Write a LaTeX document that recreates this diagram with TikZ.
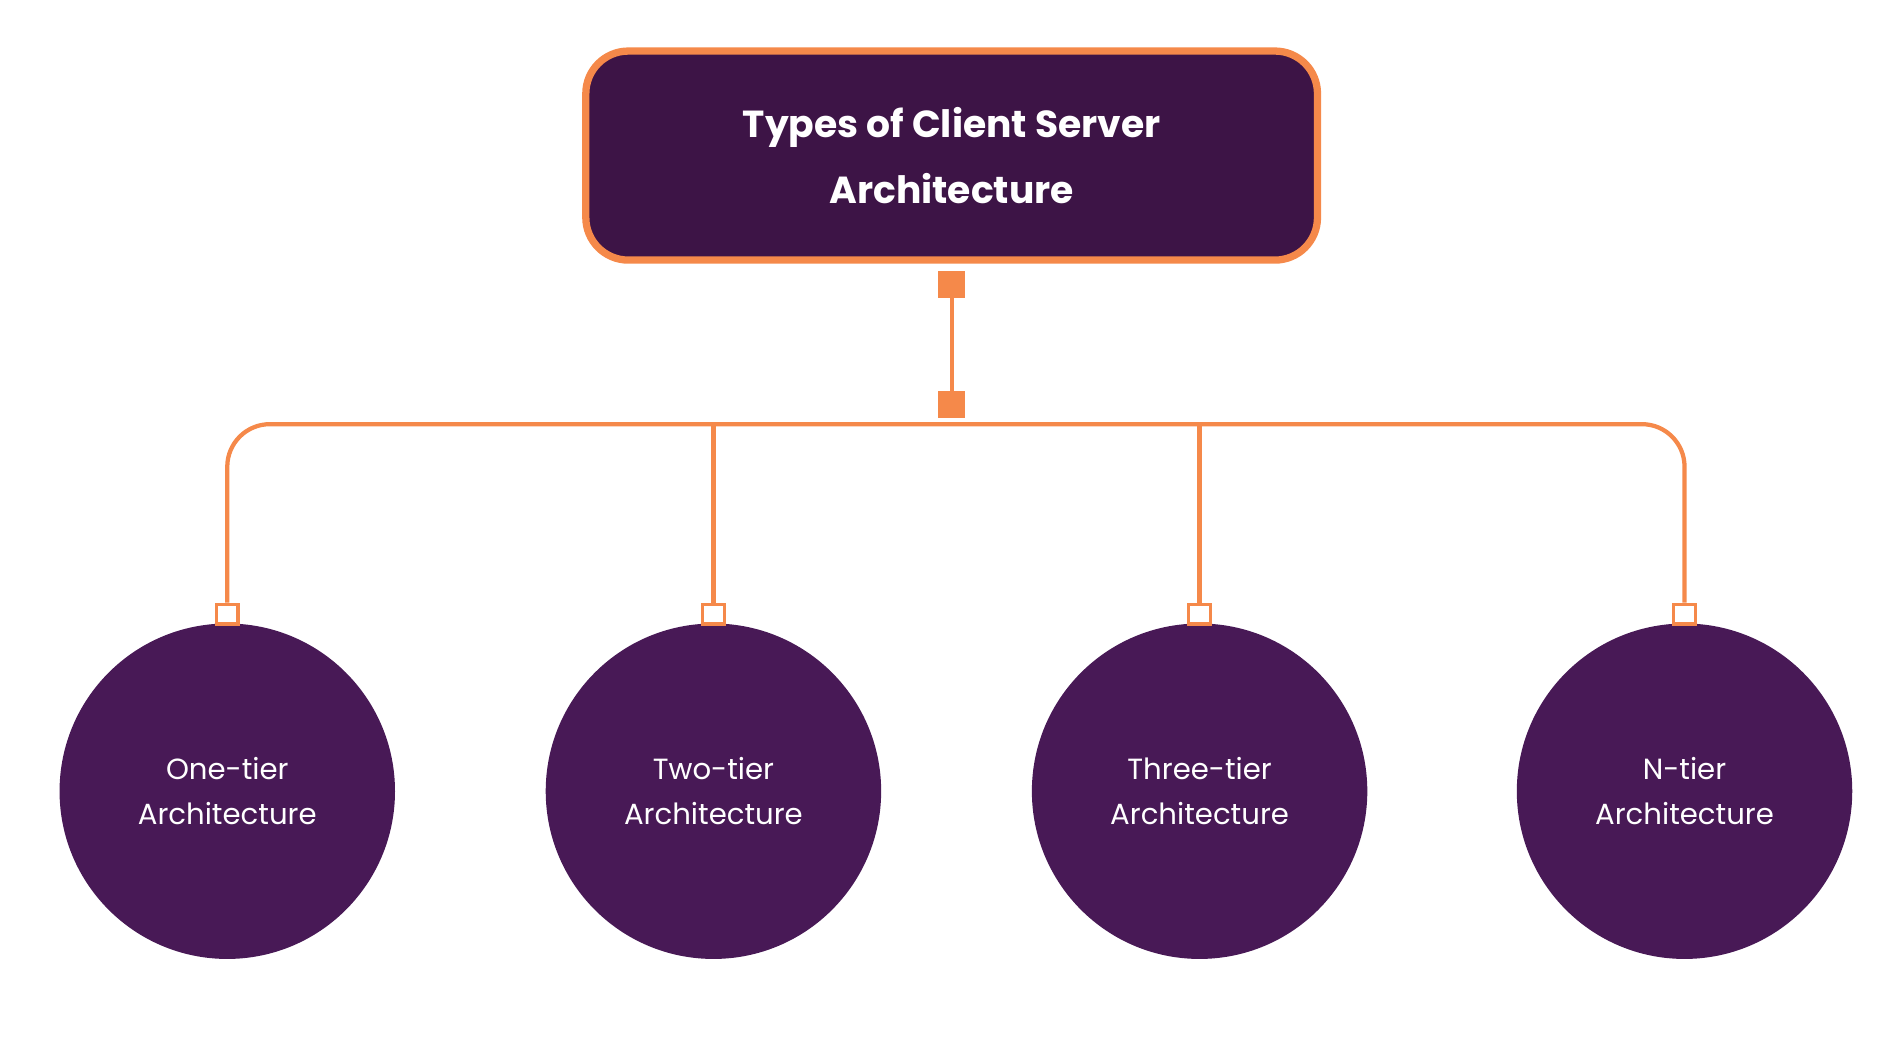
\documentclass[tikz,border=0pt]{standalone}
\usepackage{fontspec}
\setmainfont{Poppins}
\usetikzlibrary{positioning}
\definecolor{boxpurple}{RGB}{61,20,70}
\definecolor{tierpurple}{RGB}{72,25,86}
\definecolor{linkorange}{RGB}{245,137,74}
\tikzset{
  title box/.style={draw=linkorange,line width=6pt,fill=boxpurple,rounded corners=35pt,
    minimum width=602pt,minimum height=172pt,align=center,text=white,
    font=\fontsize{31}{54}\selectfont\bfseries},
  tier/.style={circle,fill=tierpurple,minimum size=276pt,align=center,text=white,
    font=\fontsize{24}{37}\selectfont},
  link/.style={draw=linkorange,line width=3.5pt},
  knob/.style={fill=linkorange,minimum size=22pt,inner sep=0pt},
  socket/.style={draw=linkorange,line width=3pt,fill=white,minimum width=18pt,minimum height=16pt,inner sep=0pt}
}
\begin{document}
\begin{tikzpicture}[x=1pt,y=1pt,yscale=-1]
\useasboundingbox (0,0) rectangle (1560,864);

% title
\node[title box] (title) at (783,128) {Types of Client Server\\Architecture};

% tiers
\node[tier] (one) at (187,651) {One-tier\\Architecture};
\node[tier] (two) at (587,651) {Two-tier\\Architecture};
\node[tier] (three) at (987,651) {Three-tier\\Architecture};
\node[tier] (ntier) at (1386,651) {N-tier\\Architecture};

% connectors
\coordinate (bus) at (783,349);
\node[knob] (top knob) at (783,234) {};
\node[knob] (bus knob) at (783,333) {};
\draw[link] (top knob) -- (bus knob);
\node[socket,above=-2pt of one.north] (s1) {};
\node[socket,above=-2pt of two.north] (s2) {};
\node[socket,above=-2pt of three.north] (s3) {};
\node[socket,above=-2pt of ntier.north] (s4) {};
\draw[link,rounded corners=35pt] (s1.north) |- (bus) -| (s4.north);
\draw[link] (s2.north) -- (s2.north |- bus);
\draw[link] (s3.north) -- (s3.north |- bus);
\end{tikzpicture}
\end{document}
